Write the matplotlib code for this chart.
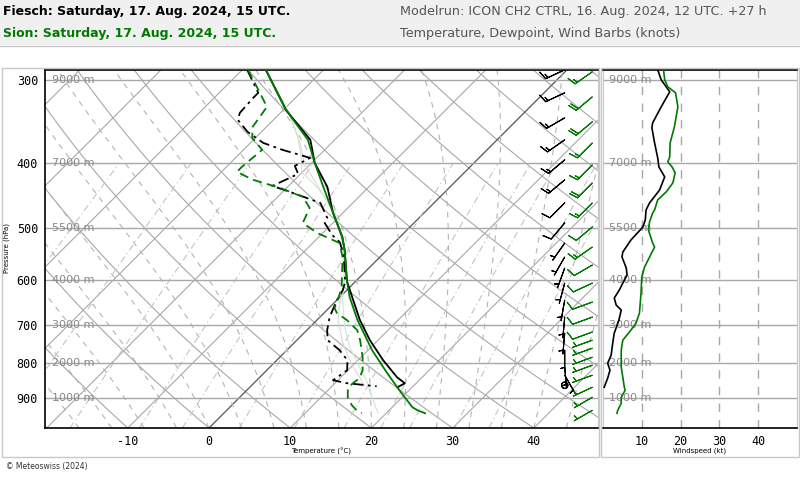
import numpy as np
import matplotlib.pyplot as plt
from matplotlib.patches import Rectangle
from matplotlib.lines import Line2D
from matplotlib.ticker import NullLocator
from matplotlib.transforms import blended_transform_factory

# ---- data (pressure in hPa, temperature in degC) ----
fiesch_t_p = [289.8, 332.8, 369.2, 400.0, 434.5, 475.4, 516.6, 540.5, 601.7, 642.5,
              688.6, 738.1, 791.1, 839.0, 856.6, 868.6]
fiesch_t = [-37.1, -29.7, -23.0, -19.6, -15.1, -11.2, -7.1, -5.2, -1.1, 2.0,
            5.3, 9.0, 13.1, 16.9, 18.6, 18.2]

sion_t_p = [289.8, 332.8, 369.2, 400.0, 434.5, 475.4, 516.6, 540.5, 601.7, 635.9,
            688.6, 764.1, 824.6, 877.7, 930.9, 940.6, 950.4]
sion_t = [-37.1, -29.7, -23.3, -19.6, -15.6, -11.2, -7.1, -5.2, -1.1, 1.2,
          5.0, 10.5, 15.0, 18.8, 22.5, 23.5, 24.8]

fiesch_td_p = [289.8, 313.8, 319.3, 336.3, 344.5, 359.2, 373.2, 382.2, 393.0, 404.0,
               415.4, 433.0, 442.0, 459.2, 483.6, 492.1, 513.0, 525.7, 549.9, 603.8,
               620.7, 642.5, 681.5, 712.9, 738.1, 764.1, 791.1, 818.9, 847.8, 856.6, 865.6]
fiesch_td = [-39.4, -35.2, -35.2, -35.0, -34.4, -31.7, -28.4, -25.2, -20.8, -21.7,
             -20.3, -22.0, -19.1, -14.0, -11.3, -11.0, -8.6, -6.8, -4.7, -1.2,
             -0.5, 0.0, 1.2, 2.5, 3.8, 6.5, 8.7, 9.9, 9.4, 11.5, 15.5]

sion_td_p = [289.8, 313.8, 329.4, 353.0, 366.7, 382.2, 405.4, 412.5, 424.0, 436.0,
             449.7, 467.2, 492.1, 509.4, 527.5, 553.7, 616.4, 642.5, 660.6, 672.1,
             688.6, 712.9, 738.1, 782.9, 818.9, 841.9, 856.6, 871.5, 899.2, 924.5, 940.6, 950.4]
sion_td = [-39.3, -35.0, -32.4, -31.7, -30.4, -27.7, -28.1, -28.1, -25.1, -20.8,
           -16.9, -14.7, -13.7, -10.7, -6.7, -4.6, -0.9, 0.1, 0.7, 1.6,
           3.7, 6.2, 7.8, 10.2, 11.8, 12.4, 12.2, 12.2, 13.3, 14.8, 16.0, 17.0]

# faint wet-bulb style curves
sion_tw_p = [294.9, 327.1, 362.9, 388.9, 412.5, 431.5, 465.6, 504.2, 559.5, 642.5,
             705.6, 756.2, 799.3, 847.8, 899.2, 950.4]
sion_tw = [-36.2, -30.4, -25.2, -22.3, -20.1, -16.9, -11.9, -8.3, -3.9, 0.7,
           4.3, 7.4, 10.3, 13.5, 16.3, 19.0]
fiesch_tw_p = [294.9, 338.6, 375.7, 402.6, 439.0, 478.7, 531.2, 599.7, 642.5, 688.6,
               750.3, 804.9, 847.8, 865.6]
fiesch_tw = [-36.2, -28.6, -23.6, -20.6, -15.6, -10.7, -6.0, -1.4, 0.4, 2.6,
             6.3, 9.9, 12.9, 14.0]

# wind speed profiles (kt)
fiesch_ws_p = [289.8, 300.0, 312.7, 329.4, 348.1, 354.2, 373.2, 393.0, 405.4, 419.7,
               439.0, 459.2, 470.4, 486.9, 499.0, 522.0, 544.3, 553.7, 575.2, 589.3,
               605.9, 620.7, 638.1, 653.7, 665.1, 688.6, 720.4, 745.7, 777.5, 799.3,
               818.9, 841.9, 868.6]
fiesch_ws = [14.1, 15.0, 17.2, 15.0, 12.8, 12.6, 13.3, 14.1, 14.4, 15.9,
             14.6, 12.0, 11.1, 10.9, 10.3, 7.2, 5.1, 4.9, 6.0, 6.2,
             5.1, 4.2, 2.9, 3.4, 4.7, 4.1, 2.9, 2.5, 2.1, 1.2,
             1.8, 1.2, 0.3]
sion_ws_p = [289.8, 300.0, 307.4, 313.8, 329.4, 353.0, 373.2, 391.6, 398.4, 405.4,
             413.9, 428.5, 442.0, 454.4, 470.4, 475.4, 490.2, 504.2, 527.5, 534.9,
             553.7, 573.3, 593.4, 627.2, 672.1, 695.8, 712.9, 738.1, 764.1, 810.5,
             839.0, 868.6, 877.7, 899.2, 918.1, 940.6, 950.4]
sion_ws = [15.6, 15.9, 16.7, 18.7, 19.3, 18.4, 17.3, 17.2, 16.7, 17.8,
           18.6, 18.0, 16.3, 14.1, 13.3, 12.8, 12.0, 11.7, 12.8, 13.3,
           12.0, 10.7, 10.0, 9.8, 9.4, 8.5, 7.2, 5.1, 4.7, 4.7,
           5.1, 5.5, 5.7, 4.7, 4.7, 3.8, 3.6]

# wind barbs: pressure, speed (kt), direction (deg)
fiesch_barb_p = [289.8, 313.8, 342.2, 369.2, 395.7, 424.0, 459.2, 492.1, 527.5, 553.7,
                 575.2, 605.9, 642.5, 681.5, 720.4, 764.1, 810.5, 833.2, 862.6]
fiesch_barb_spd = [14, 16, 14, 13, 14, 15, 12, 10, 7, 5, 6, 5, 3, 4, 3, 3, 3, 3, 0]
fiesch_barb_dir = [245, 245, 240, 235, 230, 230, 225, 220, 215, 210,
                   200, 195, 190, 185, 185, 180, 175, 150, 0]
sion_barb_p = [291.8, 318.2, 346.9, 373.2, 402.6, 428.5, 459.2, 499.0, 534.9, 569.3,
               605.9, 647.0, 681.5, 717.6, 738.1, 758.8, 782.9, 804.9, 833.2, 868.6,
               899.2, 940.6]
sion_barb_spd = [16, 19, 19, 17, 17, 18, 13, 12, 13, 11, 10, 10, 9, 8, 6, 5, 5, 5, 5, 6, 5, 4]
sion_barb_dir = [235, 230, 230, 225, 225, 225, 225, 230, 235, 240, 245, 250,
                 250, 250, 250, 250, 250, 250, 250, 245, 240, 240]

p_levels = [300, 400, 500, 600, 700, 800, 900]
height_labels = ['9000 m', '7000 m', '5500 m', '4000 m', '3000 m', '2000 m', '1000 m']
t_ticks = [-10, 0, 10, 20, 30, 40]
ws_ticks = [10, 20, 30, 40]

GREEN = '#007a00'
SKEW = 35.6  # degC per ln(p) unit -> 45 degree isotherms


def skew(t, p):
    return np.asarray(t) + SKEW * np.log(1000.0 / np.asarray(p))


def moist_adiabat(t0, p):
    t = t0 + 273.15
    out = [t]
    for i in range(1, len(p)):
        es = 6.112 * np.exp(17.67 * (t - 273.15) / (t - 273.15 + 243.5))
        rs = 0.622 * es / (p[i - 1] - es)
        dtdp = (287.0 * t + 2.5e6 * rs) / (p[i - 1] * (1004.0 + 2.5e6 ** 2 * rs * 0.622 / (287.0 * t * t)))
        t = t + dtdp * (p[i] - p[i - 1])
        out.append(t)
    return np.array(out) - 273.15


fig = plt.figure(figsize=(8, 4.8), dpi=100)
fig.patch.set_facecolor('white')

# header band and panel frames
fig.patches.append(Rectangle((0, 1 - 45 / 480), 1, 45 / 480, transform=fig.transFigure,
                             facecolor='#f0f0f0', edgecolor='none', zorder=0))
fig.lines.append(Line2D([0, 1], [1 - 45.5 / 480] * 2, transform=fig.transFigure, color='#c8c8c8', lw=1))
fig.patches.append(Rectangle((2 / 800, 1 - 457 / 480), 597 / 800, 389 / 480, transform=fig.transFigure,
                             fill=False, edgecolor='#c8c8c8', lw=1))
fig.patches.append(Rectangle((601 / 800, 1 - 457 / 480), 198 / 800, 389 / 480, transform=fig.transFigure,
                             fill=False, edgecolor='#c8c8c8', lw=1))

fig.text(3 / 800, 1 - 12 / 480, 'Fiesch: Saturday, 17. Aug. 2024, 15 UTC.', fontsize=9,
         va='center', color='black', fontweight='bold')
fig.text(3 / 800, 1 - 33 / 480, 'Sion: Saturday, 17. Aug. 2024, 15 UTC.', fontsize=9,
         va='center', color=GREEN, fontweight='bold')
fig.text(400 / 800, 1 - 12 / 480, 'Modelrun: ICON CH2 CTRL, 16. Aug. 2024, 12 UTC. +27 h',
         fontsize=9.2, va='center', color='#555555')
fig.text(400 / 800, 1 - 33 / 480, 'Temperature, Dewpoint, Wind Barbs (knots)',
         fontsize=9.2, va='center', color='#555555')
fig.text(6 / 800, 1 - 467 / 480, '\u00a9 Meteoswiss (2024)', fontsize=5.5, va='center', color='#333333')
fig.text(7 / 800, 1 - 248 / 480, 'Pressure (hPa)', rotation=90, fontsize=5, va='center', ha='center')

# ---- skew-T panel ----
ax = fig.add_axes([45 / 800, 1 - 428 / 480, 553 / 800, 358 / 480])
ax.set_yscale('log')
ax.set_ylim(1000, 290)
ax.set_xlim(-20.2, 47.9)

pp = np.geomspace(1000, 250, 200)
# dry adiabats
for th in range(-40, 160, 10):
    tk = (th + 273.15) * (pp / 1000.0) ** 0.2857 - 273.15
    ax.plot(skew(tk, pp), pp, color='#a8a8a8', lw=0.8, zorder=1)
# isotherms
for t in range(-120, 60, 10):
    ax.plot(skew(np.full_like(pp, t), pp), pp, color='#555555' if t == 0 else '#a8a8a8',
            lw=0.9 if t == 0 else 0.8, zorder=1)
# moist adiabats
for t0 in range(-20, 50, 4):
    ax.plot(skew(moist_adiabat(t0, pp), pp), pp, color='#b4b4b4', lw=0.8,
            ls=(0, (5, 5)), zorder=1)
# mixing ratio lines
pm = np.geomspace(1000, 400, 100)
for w in [0.2, 0.5, 1, 2, 3, 5, 8, 12, 16, 20, 28, 36]:
    e = (w / 1000.0) * pm / (0.622 + w / 1000.0)
    a = np.log(e / 6.112)
    td = 243.5 * a / (17.67 - a)
    ax.plot(skew(td, pm), pm, color='#c4c4c4', lw=0.8, ls=(0, (6, 3, 1, 3)), zorder=1)

for p in p_levels:
    ax.axhline(p, color='#a8a8a8', lw=1, zorder=1)
tr = blended_transform_factory(ax.transAxes, ax.transData)
for p, lab in zip(p_levels, height_labels):
    ax.text(0.012, p, lab, transform=tr, va='center', ha='left', fontsize=8, color='#888888',
            family='DejaVu Sans', zorder=2)

# profiles
ax.plot(skew(fiesch_tw, fiesch_tw_p), fiesch_tw_p, color='#d8d8d8', lw=0.8, zorder=2)
ax.plot(skew(sion_tw, sion_tw_p), sion_tw_p, color='#cfe8cf', lw=0.8, zorder=2)
ax.plot(skew(fiesch_td, fiesch_td_p), fiesch_td_p, color='black', lw=1.3, ls=(0, (6, 2.5, 1.5, 2.5)), zorder=3)
ax.plot(skew(sion_td, sion_td_p), sion_td_p, color=GREEN, lw=1.3, ls=(0, (5, 3)), zorder=3)
ax.plot(skew(fiesch_t, fiesch_t_p), fiesch_t_p, color='black', lw=1.3, zorder=4)
ax.plot(skew(sion_t, sion_t_p), sion_t_p, color=GREEN, lw=1.3, zorder=4)

# wind barbs
d = np.radians(fiesch_barb_dir)
s = np.array(fiesch_barb_spd, float)
ax.barbs(np.full(len(s), 43.8), fiesch_barb_p, -s * np.sin(d), -s * np.cos(d),
         color='black', length=5.5, linewidth=0.8, zorder=5, clip_on=True)
d = np.radians(sion_barb_dir)
s = np.array(sion_barb_spd, float)
ax.barbs(np.full(len(s), 47.2), sion_barb_p, -s * np.sin(d), -s * np.cos(d),
         color=GREEN, length=5.5, linewidth=0.8, zorder=5, clip_on=True)

ax.set_yticks(p_levels)
ax.set_yticklabels([str(p) for p in p_levels])
ax.yaxis.set_minor_locator(NullLocator())
ax.set_xticks(t_ticks)
ax.set_xticklabels([str(t) for t in t_ticks])
ax.tick_params(length=0, labelsize=8.5, pad=5)
for lab in ax.get_xticklabels() + ax.get_yticklabels():
    lab.set_family('DejaVu Sans Mono')
ax.set_xlabel('Temperature (\u00b0C)', fontsize=5, labelpad=0)
ax.spines['right'].set_color('#c8c8c8')
for k in ['left', 'top', 'bottom']:
    ax.spines[k].set_linewidth(1.2)

# ---- wind speed panel ----
ax2 = fig.add_axes([603 / 800, 1 - 428 / 480, 194 / 800, 358 / 480])
ax2.set_yscale('log')
ax2.set_ylim(1000, 290)
ax2.set_xlim(0, 50)
for v in ws_ticks:
    ax2.axvline(v, color='#a8a8a8', lw=1, ls=(0, (6, 6)), zorder=1)
for p in p_levels:
    ax2.axhline(p, color='#a8a8a8', lw=1, zorder=1)
tr2 = blended_transform_factory(ax2.transAxes, ax2.transData)
for p, lab in zip(p_levels, height_labels):
    ax2.text(0.03, p, lab, transform=tr2, va='center', ha='left', fontsize=8, color='#888888', zorder=2)
ax2.plot(fiesch_ws, fiesch_ws_p, color='black', lw=1.2, zorder=3)
ax2.plot(sion_ws, sion_ws_p, color=GREEN, lw=1.2, zorder=3)
ax2.set_yticks([])
ax2.yaxis.set_minor_locator(NullLocator())
ax2.set_xticks(ws_ticks)
ax2.set_xticklabels([str(v) for v in ws_ticks])
ax2.tick_params(length=0, labelsize=8.5, pad=5)
for lab in ax2.get_xticklabels():
    lab.set_family('DejaVu Sans Mono')
ax2.set_xlabel('Windspeed (kt)', fontsize=5, labelpad=0)
ax2.spines['left'].set_color('#c8c8c8')
ax2.spines['right'].set_color('#c8c8c8')
ax2.spines['top'].set_linewidth(1.2)
ax2.spines['bottom'].set_linewidth(1.2)

fig.savefig('out.png', dpi=100)
